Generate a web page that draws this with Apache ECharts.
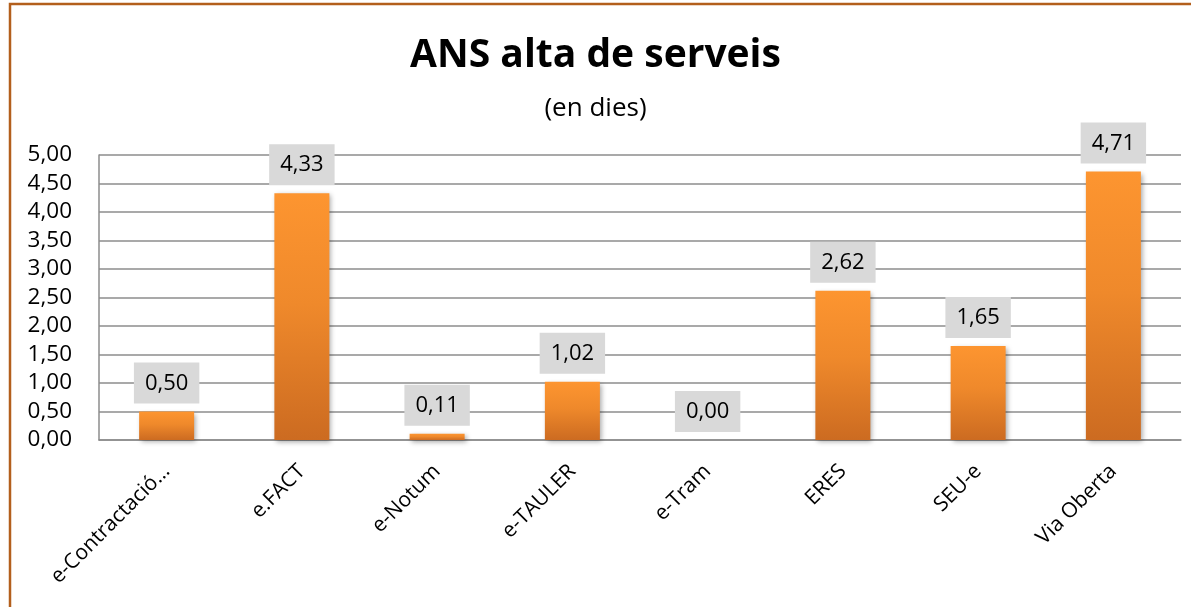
<!DOCTYPE html>
<html lang="ca">
<head>
  <meta charset="UTF-8">
  <title>ANS alta de serveis</title>
  <script src="https://cdn.jsdelivr.net/npm/echarts@6/dist/echarts.min.js"></script>
  <style>
    html, body { margin: 0; padding: 0; background: #fff; }
    #main { width: 1191px; height: 607px; }
  </style>
</head>
<body>
<div id="main"></div>
<script>
  // dades del grafic
  var serveis = ['e-Contractació…', 'e.FACT', 'e-Notum', 'e-TAULER', 'e-Tram', 'ERES', 'SEU-e', 'Via Oberta'];
  var dies = [0.50, 4.33, 0.11, 1.02, 0.00, 2.62, 1.65, 4.71];
  var yTicks = [0, 0.5, 1, 1.5, 2, 2.5, 3, 3.5, 4, 4.5, 5];

  var font = '"Open Sans", "Liberation Sans", sans-serif';
  var coma = function (v) { return Number(v).toFixed(2).replace('.', ','); };

  var myChart = echarts.init(document.getElementById('main'));
  var option = {
    animation: false,
    backgroundColor: '#fff',
    graphic: [{
      type: 'rect',
      shape: { x: 10, y: 4, width: 1300, height: 700 },
      style: { fill: 'none', stroke: '#b35f1c', lineWidth: 2.5 }
    }],
    title: [{
      text: 'ANS alta de serveis',
      left: 'center',
      top: 31,
      textStyle: { fontFamily: font, fontSize: 39, fontWeight: 'bold', color: '#000' }
    }, {
      text: '(en dies)',
      left: 'center',
      top: 91,
      textStyle: { fontFamily: font, fontSize: 26, fontWeight: 'normal', color: '#000' }
    }],
    grid: { left: 99, right: 10, top: 155, bottom: 167, containLabel: false },
    xAxis: {
      type: 'category',
      data: serveis,
      axisTick: { show: false },
      axisLine: { lineStyle: { color: '#8c8c8c', width: 1.5 } },
      axisLabel: {
        rotate: 45,
        margin: 28,
        interval: 0,
        fontFamily: font,
        fontSize: 21,
        color: '#000'
      }
    },
    yAxis: {
      type: 'value',
      min: yTicks[0],
      max: yTicks[yTicks.length - 1],
      interval: yTicks[1] - yTicks[0],
      axisLine: { show: true, lineStyle: { color: '#8c8c8c', width: 1.5 } },
      axisTick: { show: false },
      splitLine: { lineStyle: { color: '#8c8c8c', width: 1.5 } },
      axisLabel: {
        margin: 27,
        fontFamily: font,
        fontSize: 22.5,
        color: '#000',
        formatter: coma
      }
    },
    series: [{
      type: 'bar',
      data: dies,
      barWidth: 55,
      itemStyle: {
        color: new echarts.graphic.LinearGradient(0, 0, 0, 1, [
          { offset: 0, color: '#fd9530' },
          { offset: 0.45, color: '#ef892b' },
          { offset: 1, color: '#cc6b21' }
        ]),
        shadowColor: 'rgba(0,0,0,0.35)',
        shadowBlur: 5,
        shadowOffsetX: 2,
        shadowOffsetY: 2
      },
      label: {
        show: true,
        position: 'top',
        distance: 8,
        fontFamily: font,
        fontSize: 22,
        lineHeight: 26,
        color: '#000',
        backgroundColor: '#d9d9d9',
        padding: [8, 11, 7, 11],
        formatter: function (p) { return coma(p.value); }
      }
    }]
  };
  myChart.setOption(option);
</script>
</body>
</html>
